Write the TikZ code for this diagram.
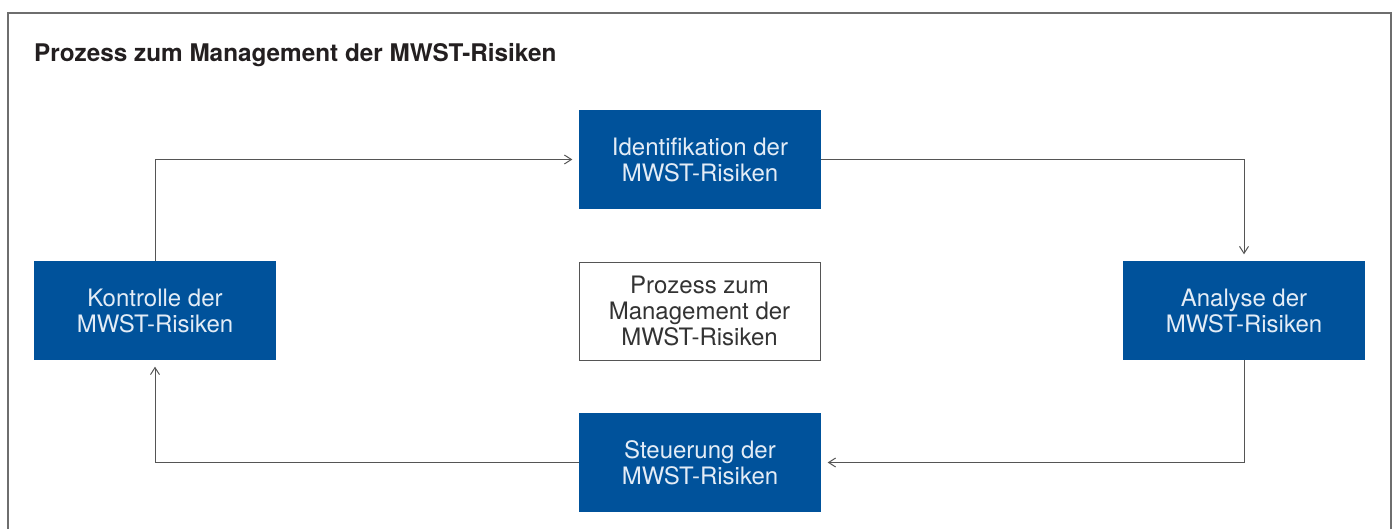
\documentclass[tikz,border=0pt]{standalone}
\usepackage{fontspec}
\setmainfont{TeX Gyre Heros}
\usetikzlibrary{arrows.meta}
\definecolor{boxblue}{HTML}{00529B}
\definecolor{boxtext}{HTML}{E3ECF6}
\definecolor{linegray}{HTML}{555555}
\definecolor{framegray}{HTML}{6E6E6E}
\definecolor{titletext}{HTML}{231F20}
\tikzset{
  bluebox/.style={fill=boxblue, draw=none, text=boxtext, minimum width=242pt, minimum height=99pt,
    inner sep=0pt, align=center, font=\fontsize{24}{26}\selectfont},
  whitebox/.style={fill=white, draw=linegray, line width=0.9pt, text=black!80, minimum width=241pt, minimum height=98pt,
    inner sep=0pt, align=center, font=\fontsize{24}{26}\selectfont},
  conn/.style={draw=linegray, line width=1pt, -{Straight Barb[length=7pt,width=9pt]}, shorten >=6.5pt},
  framestyle/.style={draw=framegray, line width=1.5pt},
}
\begin{document}
\begin{tikzpicture}[x=1pt,y=-1pt]
\useasboundingbox (0,0) rectangle (1397,529);
\draw[framestyle] (8,529) -- (8,13) -- (1391,13) -- (1391,529);
\node[anchor=base west, inner sep=0pt, text=titletext, font=\fontsize{24.3}{28}\selectfont\bfseries] (title) at (34,62) {Prozess zum Management der MWST-Risiken};
\node[bluebox] (ident) at (700,159.5) {Identifikation der\\MWST-Risiken};
\node[bluebox] (ctrl) at (155,310.5) {Kontrolle der\\MWST-Risiken};
\node[whitebox] (center) at (699.5,311) {Prozess zum\\Management der\\MWST-Risiken};
\node[bluebox] (analyse) at (1244,310.5) {Analyse der\\MWST-Risiken};
\node[bluebox] (steuer) at (700,462.5) {Steuerung der\\MWST-Risiken};
\draw[conn] (ctrl) |- (ident);
\draw[conn] (ident) -| (analyse);
\draw[conn] (analyse) |- (steuer);
\draw[conn] (steuer) -| (ctrl);
\end{tikzpicture}
\end{document}
